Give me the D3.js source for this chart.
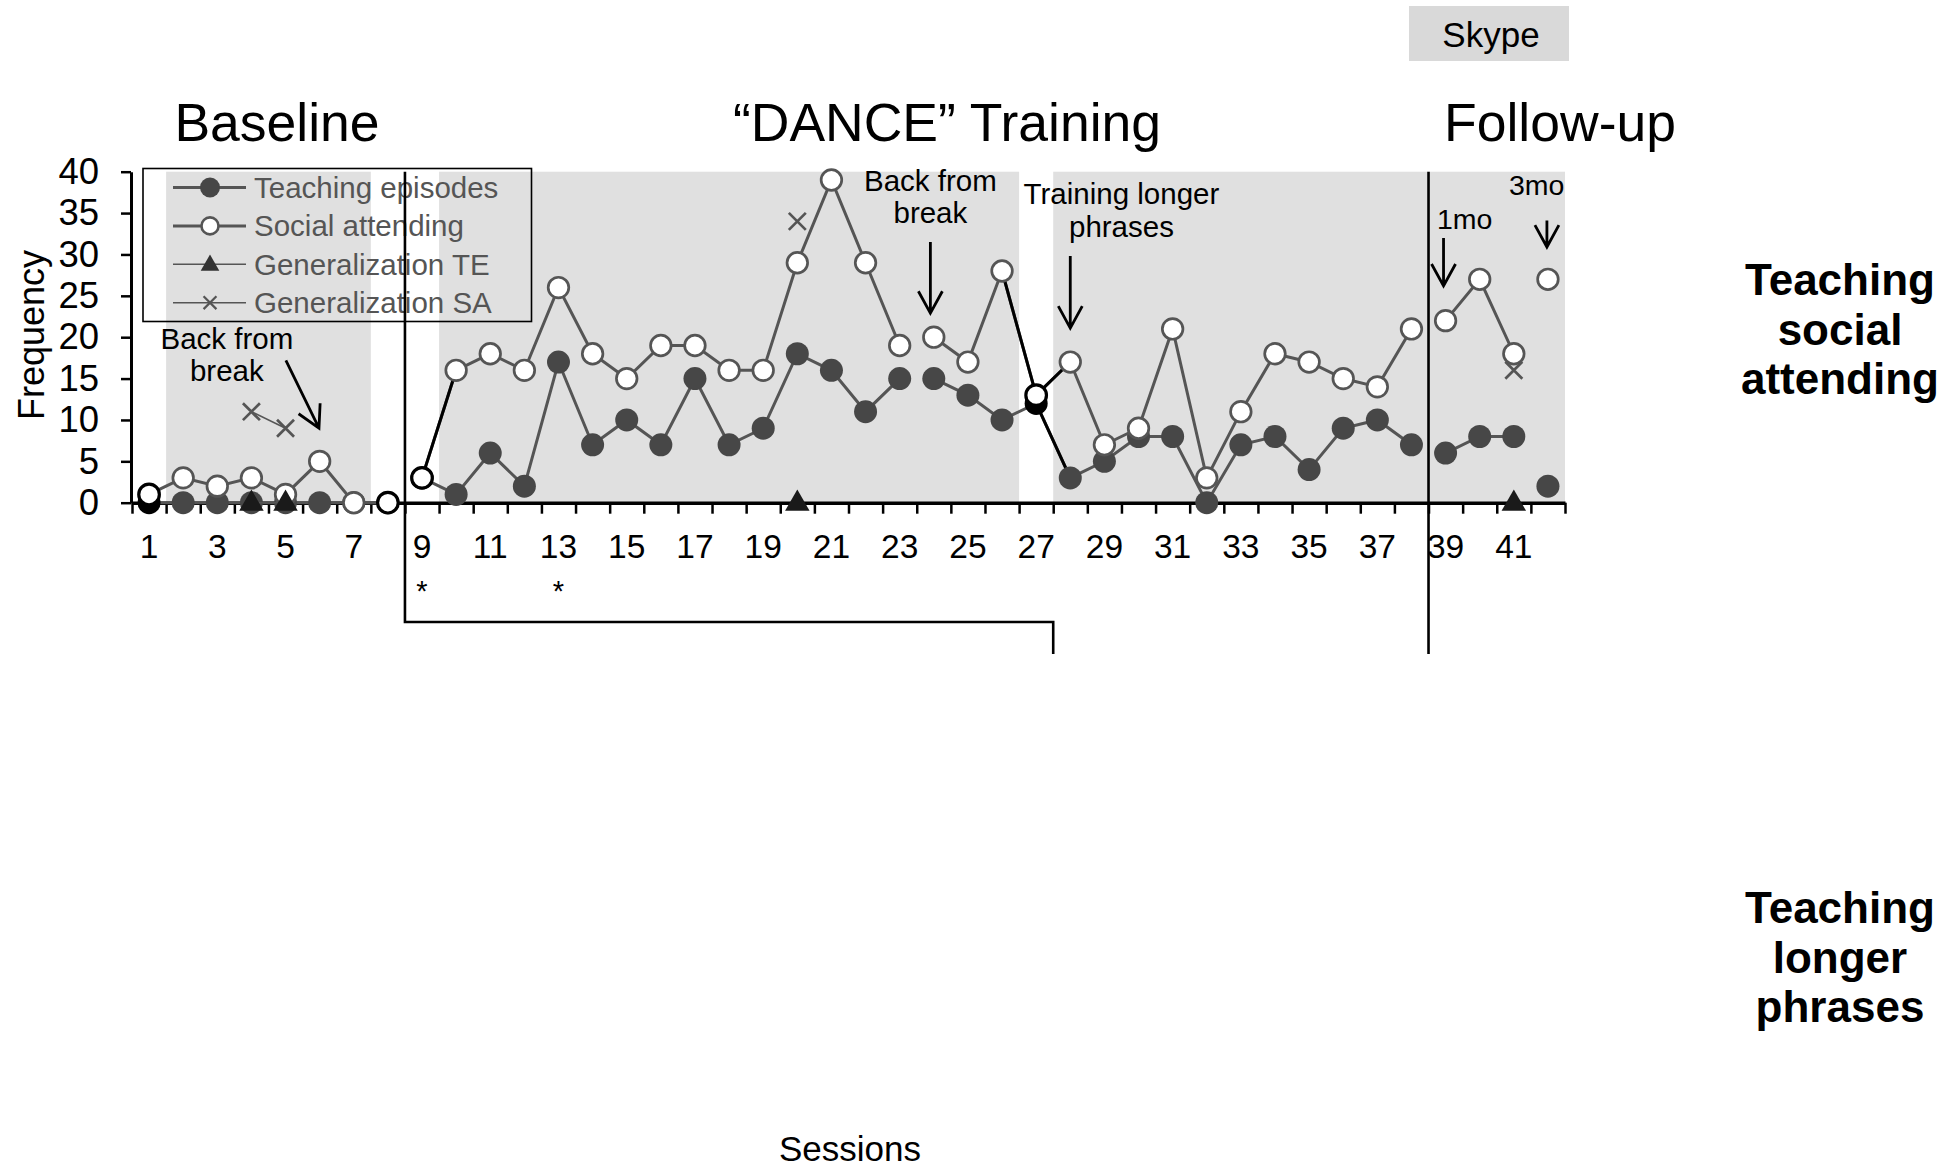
<!DOCTYPE html>
<html>
<head>
<meta charset="utf-8">
<script src="https://cdn.jsdelivr.net/npm/d3@7"></script>
<style>
  body { margin: 0; background: #fff; }
  svg text { font-family: Arial, "Liberation Sans", sans-serif; }
</style>
</head>
<body>
<svg id="graph" width="1954" height="1171"></svg>
<script>
// ---------------- data ----------------
const sessions = d3.range(1, 43)
const teachingEpisodes = [0, 0, 0, 0, 0, 0, 0, 0,
  3, 1, 6, 2, 17, 7, 10, 7, 15, 7, 9, 18, 16, 11, 15,
  15, 13, 10, 12, 3, 5, 8, 8, 0, 7, 8, 4, 9, 10, 7,
  6, 8, 8,
  2]
const socialAttending = [1, 3, 2, 3, 1, 5, 0, 0,
  3, 16, 18, 16, 26, 18, 15, 19, 19, 16, 16, 29, 39, 29, 19,
  20, 17, 28, 13, 17, 7, 9, 21, 3, 11, 18, 17, 15, 14, 21,
  22, 27, 18,
  27]
const genSessions = [4, 5, 20, 41]
const genTE = [0, 0, 0, 0]
const genSA = [11, 9, 34, 16]
const lineBreaks = [9, 24, 39, 42]          // a new line segment starts at these sessions
const phaseChanges = [8.5, 38.5]
const shadedRanges = [[1.5, 7.5], [9.5, 26.5], [27.5, 42.5]]
const xTickLabels = d3.range(1, 42, 2)
const starSessions = [9, 13]
const yTicks = d3.range(0, 41, 5)
const darkSA = [1, 8, 9, 27]                 // markers drawn in black
const darkTE = [1, 27]
const darkSASegs = [9, 26, 27]               // segment s -> s+1 drawn in black
const darkTESegs = [27]
const legendItems = ["Teaching episodes", "Social attending", "Generalization TE", "Generalization SA"]
const phaseTitles = ["Baseline", "\u201cDANCE\u201d Training", "Follow-up"]
const notes = [
  {lines: ["Back from", "break"], s: 3.28, v: [18.6, 14.7], from: [5.01, 17.2], to: [5.98, 9.0]},
  {lines: ["Back from", "break"], s: 23.9, v: [37.7, 33.8], from: [23.9, 31.5], to: [23.9, 22.9]},
  {lines: ["Training longer", "phrases"], s: 29.5, v: [36.1, 32.1], from: [28, 29.8], to: [28, 21.1]},
  {lines: ["1mo"], s: 39.56, v: [33.1], from: [38.94, 32.0], to: [38.94, 26.2]},
  {lines: ["3mo"], s: 41.67, v: [37.2], from: [41.97, 34.1], to: [41.97, 30.9]}
]

//======================= PROCESS DATA =========================
let group = s => lineBreaks.filter(b => b <= s).length
let te = sessions.map((s, i) => ({s: s, v: teachingEpisodes[i], g: group(s)}))
let sa = sessions.map((s, i) => ({s: s, v: socialAttending[i], g: group(s)}))
let gte = genSessions.map((s, i) => ({s: s, v: genTE[i], g: group(s)}))
let gsa = genSessions.map((s, i) => ({s: s, v: genSA[i], g: group(s)}))

//======================= SVG & SCALES =========================
let svg = d3.select("#graph")
let x = d3.scaleLinear().domain([0.5, 42.5]).range([132, 1565]),
    y = d3.scaleLinear().domain([0, 40]).range([502.7, 171.7])

let grey = "#555", markGrey = "#474747"

// shaded areas
svg.append("g").selectAll("rect")
  .data(shadedRanges)
  .enter().append("rect")
    .attr("x", d => x(d[0]))
    .attr("width", d => x(d[1]) - x(d[0]))
    .attr("y", y(40))
    .attr("height", y(0) - y(40))
    .attr("fill", "#e0e0e0")

//======================= AXES =========================
let xAxis = svg.append("g")
  .attr("transform", "translate(0," + y(0) + ")")
  .call(d3.axisBottom(x).tickValues(d3.range(0.5, 43, 1)).tickSize(11).tickSizeOuter(0).tickFormat(""))
xAxis.select(".domain").attr("stroke-width", 3.5)
xAxis.selectAll(".tick line").attr("stroke-width", 2.5)

svg.append("g").selectAll("text")
  .data(xTickLabels)
  .enter().append("text")
    .attr("x", d => x(d))
    .attr("y", 558)
    .attr("text-anchor", "middle")
    .attr("font-size", 33.5)
    .text(d => d)

svg.append("g").selectAll("text")
  .data(starSessions)
  .enter().append("text")
    .attr("x", d => x(d))
    .attr("y", 601)
    .attr("text-anchor", "middle")
    .attr("font-size", 29)
    .text("*")

let yAxis = svg.append("g")
  .attr("transform", "translate(131,0)")
  .call(d3.axisLeft(y).tickValues(yTicks).tickSize(10).tickSizeOuter(0).tickPadding(22))
yAxis.select(".domain").attr("stroke-width", 3)
yAxis.selectAll(".tick line").attr("stroke-width", 2.5)
yAxis.selectAll(".tick text").attr("font-size", 36.5).attr("fill", "#000")
  .style("font-family", "Arial, 'Liberation Sans', sans-serif")

svg.append("text")
  .attr("transform", "translate(44,335) rotate(-90)")
  .attr("text-anchor", "middle")
  .attr("font-size", 36)
  .text("Frequency")

svg.append("text")
  .attr("x", 850).attr("y", 1161)
  .attr("text-anchor", "middle")
  .attr("font-size", 35)
  .text("Sessions")

//======================= SERIES =========================
let line = d3.line().x(d => x(d.s)).y(d => y(d.v))

function drawLines(data, width) {
  svg.append("g").selectAll("path")
    .data(d3.groups(data, d => d.g).map(g => g[1]).filter(g => g.length > 1))
    .enter().append("path")
      .attr("d", line)
      .attr("fill", "none")
      .attr("stroke", grey)
      .attr("stroke-width", width)
}

function drawDarkSegs(data, segs) {
  svg.append("g").selectAll("path")
    .data(segs.map(s => data.filter(d => d.s === s || d.s === s + 1)))
    .enter().append("path")
      .attr("d", line)
      .attr("fill", "none")
      .attr("stroke", "#000")
      .attr("stroke-width", 3)
}

// teaching episodes
drawLines(te, 3)
drawDarkSegs(te, darkTESegs)
svg.append("g").selectAll("circle")
  .data(te)
  .enter().append("circle")
    .attr("cx", d => x(d.s)).attr("cy", d => y(d.v)).attr("r", 11.5)
    .attr("fill", d => darkTE.includes(d.s) ? "#000" : markGrey)

// social attending
drawLines(sa, 3)
drawDarkSegs(sa, darkSASegs)
svg.append("g").selectAll("circle")
  .data(sa)
  .enter().append("circle")
    .attr("cx", d => x(d.s)).attr("cy", d => y(d.v)).attr("r", 10.3)
    .attr("fill", "#fff")
    .attr("stroke", d => darkSA.includes(d.s) ? "#000" : grey)
    .attr("stroke-width", d => darkSA.includes(d.s) ? 3.2 : 2.7)

// generalization TE
drawLines(gte, 1.5)
let tri = d3.symbol().type(d3.symbolTriangle).size(260)
svg.append("g").selectAll("path")
  .data(gte)
  .enter().append("path")
    .attr("d", tri)
    .attr("transform", d => "translate(" + x(d.s) + "," + (y(d.v) + 1) + ")")
    .attr("fill", "#1a1a1a")

// generalization SA
drawLines(gsa, 1.5)
let cross = d3.symbol().type(d3.symbolX).size(190)
svg.append("g").selectAll("path")
  .data(gsa)
  .enter().append("path")
    .attr("d", cross)
    .attr("transform", d => "translate(" + x(d.s) + "," + y(d.v) + ")")
    .attr("fill", "none")
    .attr("stroke", grey)
    .attr("stroke-width", 2.7)

//======================= LEGEND =========================
let legend = svg.append("g")
legend.append("rect")
  .attr("x", 143).attr("y", 168.5).attr("width", 388.5).attr("height", 153)
  .attr("fill", "none").attr("stroke", "#000").attr("stroke-width", 1.6)

let item = legend.selectAll(".legendItem")
  .data(legendItems)
  .enter().append("g")
    .attr("class", "legendItem")
    .attr("transform", (d, i) => "translate(0," + (187.5 + i * 38.4) + ")")

item.append("line")
  .attr("x1", 173).attr("x2", 246)
  .attr("stroke", grey)
  .attr("stroke-width", (d, i) => i < 2 ? 3 : 1.5)

item.each(function(d, i) {
  let g = d3.select(this)
  if (i === 0) g.append("circle").attr("cx", 210).attr("r", 10).attr("fill", markGrey)
  if (i === 1) g.append("circle").attr("cx", 210).attr("r", 8.5).attr("fill", "#fff").attr("stroke", grey).attr("stroke-width", 2.6)
  if (i === 2) g.append("path").attr("d", d3.symbol().type(d3.symbolTriangle).size(150)).attr("transform", "translate(210,1)").attr("fill", "#333")
  if (i === 3) g.append("path").attr("d", d3.symbol().type(d3.symbolX).size(110)).attr("transform", "translate(210,0)").attr("fill", "none").attr("stroke", grey).attr("stroke-width", 2.2)
})

item.append("text")
  .attr("x", 254).attr("dy", "0.35em")
  .attr("font-size", 29.5)
  .attr("fill", grey)
  .text(d => d)

//======================= PHASE LINES =========================
svg.append("path")
  .attr("d", "M" + x(phaseChanges[0]) + "," + y(40) + "V622H" + x(27.5) + "V654")
  .attr("fill", "none").attr("stroke", "#000").attr("stroke-width", 2.6)
svg.append("line")
  .attr("x1", x(phaseChanges[1])).attr("x2", x(phaseChanges[1]))
  .attr("y1", y(40)).attr("y2", 654)
  .attr("stroke", "#000").attr("stroke-width", 2.6)

//======================= ANNOTATIONS =========================
let ann = svg.append("g").selectAll("g")
  .data(notes)
  .enter().append("g")

ann.each(function(d) {
  let g = d3.select(this)
  d.lines.forEach((t, i) => {
    g.append("text")
      .attr("x", x(d.s)).attr("y", y(d.v[i]))
      .attr("text-anchor", "middle")
      .attr("font-size", d.lines.length > 1 ? 29.5 : 28.5)
      .text(t)
  })
  let x1 = x(d.from[0]), y1 = y(d.from[1]), x2 = x(d.to[0]), y2 = y(d.to[1])
  let a = Math.atan2(y2 - y1, x2 - x1), len = 25, spread = 0.5
  g.append("path")
    .attr("d", "M" + x1 + "," + y1 + "L" + x2 + "," + y2 +
      "M" + (x2 - len * Math.cos(a - spread)) + "," + (y2 - len * Math.sin(a - spread)) +
      "L" + x2 + "," + y2 +
      "L" + (x2 - len * Math.cos(a + spread)) + "," + (y2 - len * Math.sin(a + spread)))
    .attr("fill", "none").attr("stroke", "#000").attr("stroke-width", 2.8)
})

//======================= TITLES =========================
let titleX = [277, 947, 1560]
svg.append("g").selectAll("text")
  .data(phaseTitles)
  .enter().append("text")
    .attr("x", (d, i) => titleX[i]).attr("y", 141)
    .attr("text-anchor", "middle")
    .attr("font-size", 53.5)
    .text(d => d)

svg.append("rect")
  .attr("x", 1409).attr("y", 6).attr("width", 160).attr("height", 55)
  .attr("fill", "#d9d9d9")
svg.append("text")
  .attr("x", 1491).attr("y", 47)
  .attr("text-anchor", "middle")
  .attr("font-size", 35)
  .text("Skype")

function sideLabel(lines, top) {
  svg.append("g").selectAll("text")
    .data(lines)
    .enter().append("text")
      .attr("x", 1840).attr("y", (d, i) => top + i * 49.5)
      .attr("text-anchor", "middle")
      .attr("font-size", 44)
      .attr("font-weight", "bold")
      .text(d => d)
}
sideLabel(["Teaching", "social", "attending"], 295)
sideLabel(["Teaching", "longer", "phrases"], 923)
</script>
</body>
</html>
